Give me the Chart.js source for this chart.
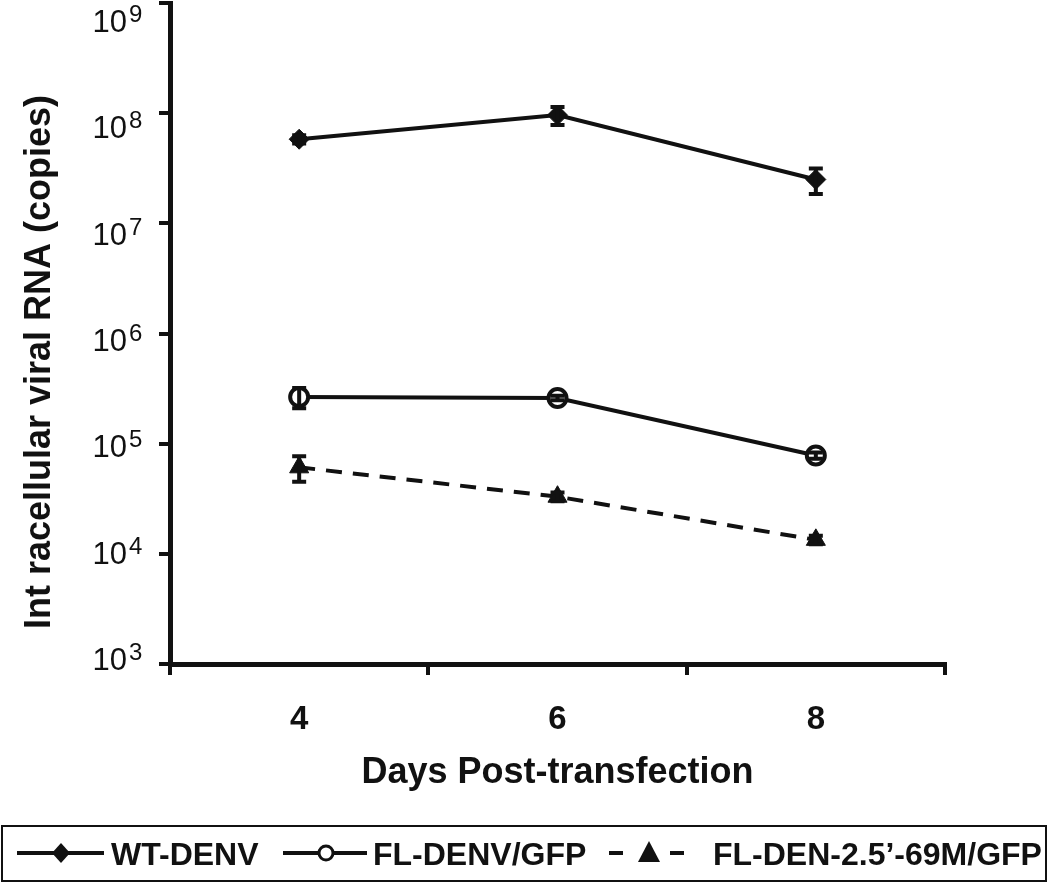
<!DOCTYPE html>
<html>
<head>
<meta charset="utf-8">
<script src="https://cdn.jsdelivr.net/npm/chart.js@4"></script>
<style>
  html, body { margin: 0; padding: 0; background: #fff; }
  #chart { display: block; }
</style>
</head>
<body>
<canvas id="chart" width="1050" height="886"></canvas>
<script>
// data
const days = [4, 6, 8];
const wtDenv = [5.8e7, 9.6e7, 2.5e7];
const wtDenvErr = [5e6, 1.8e7, 6.5e6];
const flDenvGfp = [2.65e5, 2.6e5, 7.8e4];
const flDenvGfpErr = [5.5e4, 1.2e4, 5e3];
const flDen69m = [6.1e4, 3.3e4, 1.34e4];
const flDen69mErr = [1.6e4, 3e3, 1.2e3];

const seriesNames = ['WT-DENV', 'FL-DENV/GFP', 'FL-DEN-2.5\u2019-69M/GFP'];
const yTickExps = [3, 4, 5, 6, 7, 8, 9];
const xTickBounds = [3, 5, 7, 9];
const xTitle = 'Days Post-transfection';
const yTitle = 'Int racellular viral RNA (copies)';

const FONT = '"Liberation Sans", Arial, sans-serif';

function toPoints(values) {
    return days.map((d, i) => ({ x: d, y: values[i] }));
}

const errorBars = {
    id: 'errorBars',
    afterDatasetsDraw(chart) {
        const ctx = chart.ctx;
        const x = chart.scales.x;
        const y = chart.scales.y;
        const sets = [[wtDenv, wtDenvErr], [flDenvGfp, flDenvGfpErr], [flDen69m, flDen69mErr]];
        ctx.save();
        ctx.strokeStyle = '#111';
        ctx.lineWidth = 4;
        ctx.setLineDash([]);
        sets.forEach(([vals, errs]) => {
            days.forEach((d, i) => {
                const px = x.getPixelForValue(d);
                const top = y.getPixelForValue(vals[i] + errs[i]);
                const bot = y.getPixelForValue(vals[i] - errs[i]);
                ctx.beginPath();
                ctx.moveTo(px, top);
                ctx.lineTo(px, bot);
                ctx.moveTo(px - 7, top);
                ctx.lineTo(px + 7, top);
                ctx.moveTo(px - 7, bot);
                ctx.lineTo(px + 7, bot);
                ctx.stroke();
            });
        });
        ctx.restore();
    }
};

const axisText = {
    id: 'axisText',
    afterDraw(chart) {
        const ctx = chart.ctx;
        const x = chart.scales.x;
        const y = chart.scales.y;
        const area = chart.chartArea;
        ctx.save();
        ctx.fillStyle = '#111';

        // y tick labels, 10 with raised exponent
        yTickExps.forEach(e => {
            const py = y.getPixelForValue(Math.pow(10, e));
            const base = py + 6 + (e - 3) * 3.8;
            ctx.font = '31px ' + FONT;
            ctx.textAlign = 'right';
            ctx.textBaseline = 'alphabetic';
            ctx.fillText('10', 127, base);
            ctx.font = '24px ' + FONT;
            ctx.textAlign = 'left';
            ctx.fillText(String(e), 129, base - 10);
        });

        // x tick labels
        ctx.font = 'bold 33px ' + FONT;
        ctx.textAlign = 'center';
        days.forEach(d => {
            ctx.fillText(String(d), x.getPixelForValue(d), 729);
        });

        // axis titles
        ctx.font = 'bold 36px ' + FONT;
        ctx.fillText(xTitle, (area.left + area.right) / 2, 783);
        ctx.save();
        ctx.translate(50, 362);
        ctx.rotate(-Math.PI / 2);
        ctx.fillText(yTitle, 0, 0);
        ctx.restore();

        // legend box
        ctx.strokeStyle = '#111';
        ctx.lineWidth = 2;
        ctx.strokeRect(2, 826, 1044, 55);
        const ly = 853;
        ctx.lineWidth = 4;
        ctx.beginPath();
        ctx.moveTo(17, ly); ctx.lineTo(104, ly);
        ctx.moveTo(283, ly); ctx.lineTo(367, ly);
        ctx.moveTo(609, ly); ctx.lineTo(623, ly);
        ctx.moveTo(670, ly); ctx.lineTo(684, ly);
        ctx.stroke();
        // diamond
        ctx.beginPath();
        ctx.moveTo(61, ly - 10); ctx.lineTo(70, ly); ctx.lineTo(61, ly + 10); ctx.lineTo(52, ly);
        ctx.closePath();
        ctx.fill();
        // open circle
        ctx.beginPath();
        ctx.arc(326, ly, 7, 0, Math.PI * 2);
        ctx.fillStyle = '#fff';
        ctx.fill();
        ctx.lineWidth = 3;
        ctx.stroke();
        ctx.fillStyle = '#111';
        // triangle
        ctx.beginPath();
        ctx.moveTo(649, ly - 12); ctx.lineTo(660, ly + 9); ctx.lineTo(638, ly + 9);
        ctx.closePath();
        ctx.fill();

        ctx.font = 'bold 32px ' + FONT;
        ctx.textAlign = 'left';
        ctx.fillText(seriesNames[0], 111, 865);
        ctx.fillText(seriesNames[1], 373, 865);
        ctx.fillText(seriesNames[2], 713, 865);
        ctx.restore();
    }
};

const ctx = document.getElementById('chart').getContext('2d');
new Chart(ctx, {
    type: 'line',
    data: {
        datasets: [
            {
                label: seriesNames[0],
                data: toPoints(wtDenv),
                borderColor: '#111',
                backgroundColor: '#111',
                borderWidth: 4,
                pointStyle: 'rectRot',
                pointRadius: 10,
                pointBackgroundColor: '#111',
                pointBorderColor: '#111',
                pointBorderWidth: 1
            },
            {
                label: seriesNames[1],
                data: toPoints(flDenvGfp),
                borderColor: '#111',
                backgroundColor: '#fff',
                borderWidth: 4,
                pointStyle: 'circle',
                pointRadius: 9,
                pointBackgroundColor: '#fff',
                pointBorderColor: '#111',
                pointBorderWidth: 4
            },
            {
                label: seriesNames[2],
                data: toPoints(flDen69m),
                borderColor: '#111',
                backgroundColor: '#111',
                borderWidth: 4,
                borderDash: [16, 11],
                pointStyle: 'triangle',
                pointRadius: 11,
                pointBackgroundColor: '#111',
                pointBorderColor: '#111',
                pointBorderWidth: 1
            }
        ]
    },
    options: {
        responsive: false,
        animation: false,
        devicePixelRatio: 1,
        layout: {
            autoPadding: false,
            padding: { left: 0, top: 3, right: 105, bottom: 0 }
        },
        scales: {
            x: {
                type: 'linear',
                min: 3,
                max: 9,
                afterBuildTicks: scale => {
                    scale.ticks = xTickBounds.map(v => ({ value: v }));
                },
                afterFit: scale => { scale.height = 222; },
                ticks: { display: false },
                grid: {
                    drawOnChartArea: false,
                    drawTicks: true,
                    tickLength: 11,
                    color: '#111',
                    lineWidth: 4
                },
                border: { display: true, color: '#111', width: 5 }
            },
            y: {
                type: 'logarithmic',
                min: 1e3,
                max: 1e9,
                afterBuildTicks: scale => {
                    scale.ticks = yTickExps.map(e => ({ value: Math.pow(10, e) }));
                },
                afterFit: scale => { scale.width = 170; },
                ticks: { display: false },
                grid: {
                    drawOnChartArea: false,
                    drawTicks: true,
                    tickLength: 11,
                    color: '#111',
                    lineWidth: 4
                },
                border: { display: true, color: '#111', width: 5 }
            }
        },
        plugins: {
            legend: { display: false },
            tooltip: { enabled: false }
        }
    },
    plugins: [errorBars, axisText]
});
</script>
</body>
</html>
